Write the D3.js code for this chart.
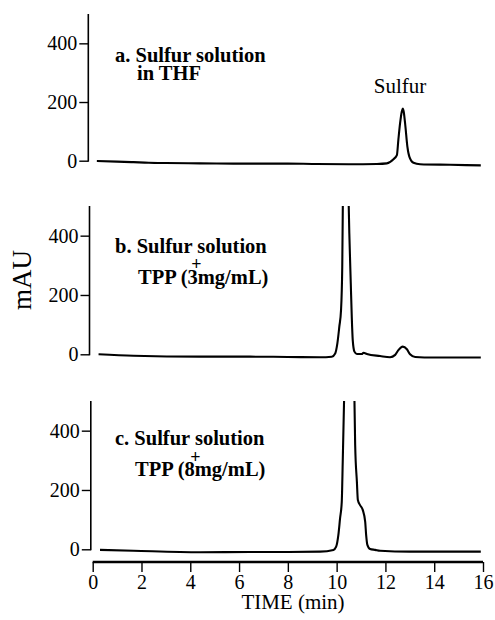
<!DOCTYPE html>
<html>
<head>
<meta charset="utf-8">
<script src="https://cdn.jsdelivr.net/npm/d3@7"></script>
<style>
  html, body { margin: 0; padding: 0; background: #fff; }
  svg { display: block; }
  text { font-family: "Liberation Serif", "Times New Roman", serif; fill: #000; }
</style>
</head>
<body>
<svg id="chart" width="495" height="620"></svg>
<script>
// Chromatogram traces: retention time (min) and absorbance (mAU)
const timeA = [0.17, 1.0, 1.67, 2.3, 3.0, 4.4, 5.77, 6.45, 8.0, 9.0, 10.5, 11.65, 12.06, 12.33, 12.47, 12.53, 12.60, 12.67, 12.71, 12.75, 12.82, 12.90, 12.98, 13.15, 13.42, 14.65, 15.91];
const mauA  = [-1, -3, -5, -7, -8, -9, -10, -10, -10, -11, -12, -11, -9, 5, 19, 71, 127, 167, 178, 167, 116, 48, 14, -7, -12, -14, -16];

const timeB = [0.24, 1.67, 4.4, 6.45, 8.0, 9.32, 9.80, 9.94, 10.03, 10.11, 10.18, 10.23, 10.26, 10.37, 10.48, 10.52, 10.58, 10.62, 10.66, 10.73, 10.83, 11.03, 11.10, 11.24, 11.78, 12.19, 12.40, 12.53, 12.71, 12.88, 13.01, 13.22, 13.97, 15.91];
const mauB  = [0, -5, -8, -8, -9, -10, -8, 3, 37, 93, 149, 295, 560, 1100, 560, 408, 239, 127, 48, 9, 1, 1, 5, 1, -6, -10, -2, 14, 26, 17, 0, -9, -11, -11];

const timeC = [0.30, 1.67, 4.4, 6.45, 8.0, 9.32, 9.87, 9.98, 10.07, 10.14, 10.21, 10.25, 10.32, 10.52, 10.72, 10.76, 10.83, 10.87, 10.96, 11.07, 11.17, 11.21, 11.26, 11.37, 11.58, 11.78, 13.0, 15.91];
const mauC  = [-2, -5, -10, -9, -9, -8, -2, 9, 48, 104, 160, 295, 560, 1400, 560, 351, 228, 166, 149, 133, 93, 48, 15, 1, -2, -5, -8, -8];

// Axis ticks and labels
const timeTicks = [0, 2, 4, 6, 8, 10, 12, 14, 16];
const mauTicks = [0, 200, 400];
const panelTitles = [
  ["a. Sulfur solution", "in THF"],
  ["b. Sulfur solution", "+", "TPP (3mg/mL)"],
  ["c. Sulfur solution", "+", "TPP (8mg/mL)"]
];
const peakLabel = "Sulfur";

const svg = d3.select("#chart");

const x = d3.scaleLinear().domain([0, 16]).range([92.7, 483]);

// Vertical placement of the three stacked panels and their title lines
const panels = [
  { time: timeA, mau: mauA, top: 14, zero: 160.7, axisX: 88.3, lines: [[115, 47.7], [137, 66]] },
  { time: timeB, mau: mauB, top: 206, zero: 354.3, axisX: 89.5, lines: [[115, 47.3], [196.5, 64], [138, 77.8]] },
  { time: timeC, mau: mauC, top: 401, zero: 549.3, axisX: 90.8, lines: [[115, 44], [195.5, 61.5], [135, 75]] }
];

panels.forEach((p, i) => {
  const y = d3.scaleLinear().domain([0, 500]).range([p.zero, p.top]);
  const g = svg.append("g");

  // y axis
  const yAxis = d3.axisLeft(y).tickValues(mauTicks).tickSize(9).tickPadding(2);
  const ga = g.append("g").attr("transform", `translate(${p.axisX},0)`).call(yAxis);
  ga.select(".domain").attr("d", `M0,${p.top}V${p.zero + 1}`).attr("stroke", "#000").attr("stroke-width", 1.6);
  ga.selectAll(".tick line").attr("stroke", "#000").attr("stroke-width", 1.4);
  ga.selectAll(".tick text")
    .attr("font-family", "Liberation Serif, serif")
    .attr("font-size", 20)
    .attr("fill", "#000");

  // clipped trace
  const clipId = "clip" + i;
  svg.append("clipPath").attr("id", clipId)
    .append("rect")
    .attr("x", p.axisX + 1).attr("y", p.top)
    .attr("width", 400).attr("height", p.zero - p.top + 20);

  const pts = p.time.map((t, k) => [t, p.mau[k]]);
  const line = d3.line()
    .x(d => x(d[0]))
    .y(d => y(d[1]))
    .curve(d3.curveMonotoneX);

  g.append("path")
    .attr("clip-path", `url(#${clipId})`)
    .attr("d", line(pts))
    .attr("fill", "none")
    .attr("stroke", "#000")
    .attr("stroke-width", 2.1)
    .attr("stroke-linejoin", "round");

  // panel title, one text per line; the "+" line is centred
  const title = g.append("g").attr("font-weight", "bold");
  panelTitles[i].forEach((txt, k) => {
    const [lx, ly] = p.lines[k];
    const isPlus = txt === "+";
    title.append("text")
      .attr("x", lx)
      .attr("y", p.top + ly)
      .attr("text-anchor", isPlus ? "middle" : "start")
      .attr("font-size", isPlus ? 18 : 20.5)
      .text(txt);
  });
});

// peak annotation in the first panel
svg.append("text")
  .attr("x", 400).attr("y", 92.5)
  .attr("text-anchor", "middle")
  .attr("font-size", 21)
  .text(peakLabel);

// shared time axis
const xAxis = d3.axisBottom(x).tickValues(timeTicks).tickSize(10).tickPadding(3);
const gx = svg.append("g").attr("transform", "translate(0,562)").call(xAxis);
gx.select(".domain").attr("d", `M${x(0)},0H${x(16)}`).attr("stroke", "#000").attr("stroke-width", 2.6);
gx.selectAll(".tick line").attr("stroke", "#000").attr("stroke-width", 1.4);
gx.selectAll(".tick text")
  .attr("font-family", "Liberation Serif, serif")
  .attr("font-size", 20)
  .attr("fill", "#000");

svg.append("text")
  .attr("x", 293).attr("y", 609)
  .attr("text-anchor", "middle")
  .attr("font-size", 21)
  .text("TIME (min)");

svg.append("text")
  .attr("transform", "translate(31,280) rotate(-90)")
  .attr("text-anchor", "middle")
  .attr("font-size", 27)
  .text("mAU");
</script>
</body>
</html>
